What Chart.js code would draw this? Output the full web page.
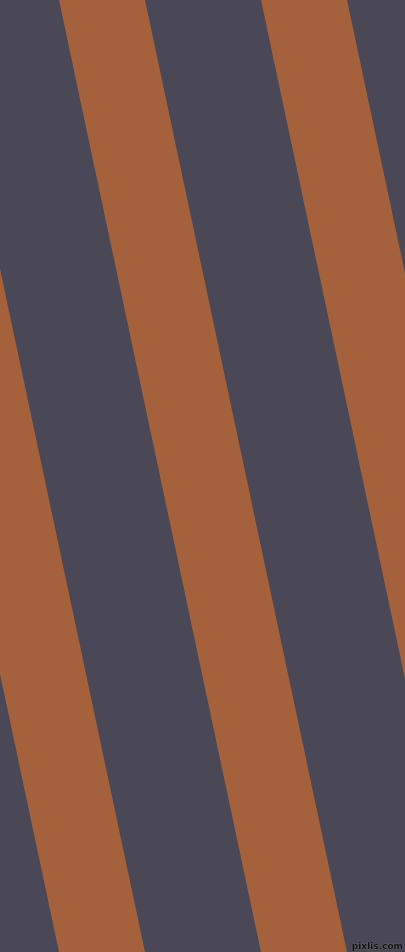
<!DOCTYPE html>
<html>
<head>
<meta charset="utf-8">
<script src="https://cdn.jsdelivr.net/npm/chart.js@4.4.1/dist/chart.umd.min.js"></script>
<style>
  html, body { margin: 0; padding: 0; background: #4a4857; overflow: hidden; }
  #wrap { position: relative; width: 405px; height: 952px; overflow: hidden; }
  #grafico { display: block; }
  #mark {
    position: absolute; right: 2px; bottom: 1px;
    font: bold 9px "DejaVu Sans", sans-serif; color: #111;
    text-shadow: 0 0 1px #777, 0 0 1px #777;
  }
</style>
</head>
<body>
<div id="wrap">
  <canvas id="grafico" width="405" height="952"></canvas>
  <div id="mark">pixlis.com</div>
</div>
<script>
// bordas das faixas laranja (x no topo e x na base da imagem)
const topoEsq = [-143, 59, 261, 463]
const topoDir = [-57, 145, 347, 549]
const baseEsq = [59, 261, 463, 665]
const baseDir = [145, 347, 549, 751]
const alturaY = [0, 952]

const corFundo = '#4a4857'
const corFaixa = '#a4613b'

let datasets = []
for (let i = 0; i < topoEsq.length; i++) {
    datasets.push({
        data: [
            {x: topoEsq[i], y: alturaY[0]},
            {x: topoDir[i], y: alturaY[0]},
            {x: baseDir[i], y: alturaY[1]},
            {x: baseEsq[i], y: alturaY[1]},
            {x: topoEsq[i], y: alturaY[0]}
        ],
        showLine: true,
        fill: 'shape',
        backgroundColor: corFaixa,
        borderColor: corFaixa,
        borderWidth: 0,
        pointRadius: 0,
        tension: 0
    })
}

const fundo = {
    id: 'fundo',
    beforeDraw(chart) {
        const c = chart.ctx
        c.save()
        c.fillStyle = corFundo
        c.fillRect(0, 0, chart.width, chart.height)
        c.restore()
    }
}

new Chart(document.getElementById('grafico'), {
    type: 'scatter',
    data: { datasets: datasets },
    options: {
        responsive: false,
        animation: false,
        events: [],
        layout: { padding: 0 },
        plugins: { legend: { display: false }, tooltip: { enabled: false } },
        scales: {
            x: { type: 'linear', min: 0, max: 405, display: false },
            y: { type: 'linear', min: 0, max: 952, reverse: true, display: false }
        }
    },
    plugins: [fundo]
})
</script>
</body>
</html>
